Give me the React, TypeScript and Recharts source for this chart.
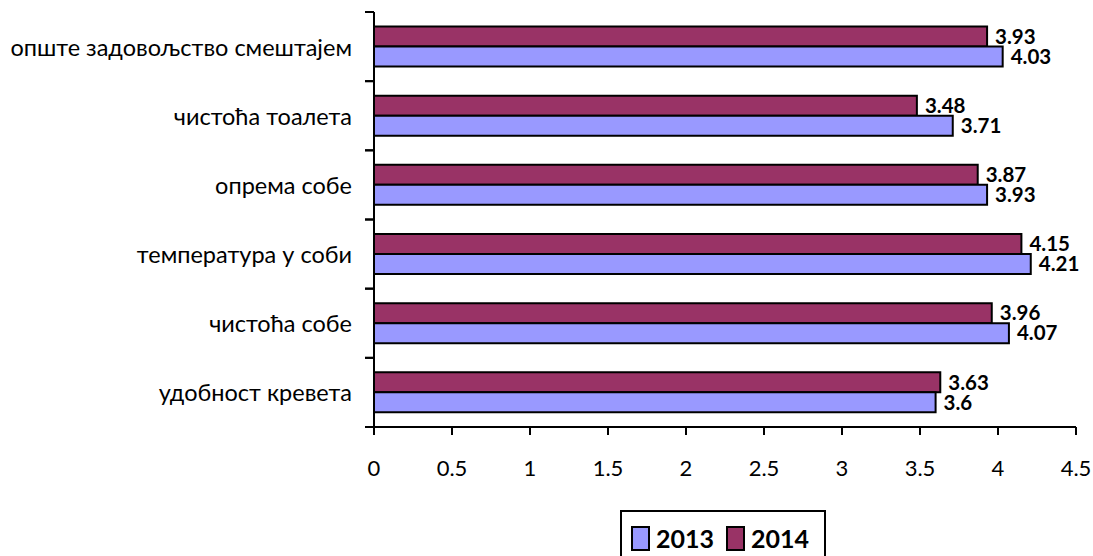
import React from 'react';
import { BarChart, Bar, XAxis, YAxis, LabelList } from 'recharts';

const categories = [
  'опште задовољство смештајем',
  'чистоћа тоалета',
  'опрема собе',
  'температура у соби',
  'чистоћа собе',
  'удобност кревета',
];
const values2013 = [4.03, 3.71, 3.93, 4.21, 4.07, 3.6];
const values2014 = [3.93, 3.48, 3.87, 4.15, 3.96, 3.63];
const xTicks = [0, 0.5, 1, 1.5, 2, 2.5, 3, 3.5, 4, 4.5];
const seriesNames = ['2013', '2014'];
const seriesColors = ['#9999FF', '#993366'];

const data = categories.map((name, i) => ({
  name,
  y2013: values2013[i],
  y2014: values2014[i],
}));

const FONT = 'Lato, "Open Sans", sans-serif';
const Y_TICK_SIZE = 9;
const Y_TICK_MARGIN = 13;

// category labels plus Excel-style tick marks on the band edges
const CategoryTick = (props: any) => {
  const { x, y, payload } = props;
  const half = payload?.offset ?? 34.6;
  const axisX = x + Y_TICK_MARGIN + Y_TICK_SIZE;
  return (
    <g>
      <line x1={axisX - Y_TICK_SIZE} x2={axisX} y1={y - half} y2={y - half} stroke="#000" strokeWidth={2} />
      <line x1={axisX - Y_TICK_SIZE} x2={axisX} y1={y + half} y2={y + half} stroke="#000" strokeWidth={2} />
      <text x={x} y={y} textAnchor="end" dominantBaseline="central" fontSize={23.5} fill="#000" fontFamily={FONT}>
        {payload.value}
      </text>
    </g>
  );
};

const LegendBox = () => (
  <div
    style={{
      position: 'absolute',
      left: 620,
      top: 510,
      width: 206,
      height: 60,
      border: '2px solid #000',
      boxSizing: 'border-box',
      background: '#fff',
      display: 'flex',
      alignItems: 'flex-start',
      paddingTop: 14,
      paddingLeft: 9,
      fontFamily: FONT,
      fontWeight: 700,
      fontSize: 25,
      lineHeight: '25px',
    }}
  >
    {seriesNames.map((name, i) => (
      <div key={name} style={{ display: 'flex', alignItems: 'center', marginRight: 12 }}>
        <span
          style={{
            display: 'inline-block',
            width: 15,
            height: 21,
            background: seriesColors[i],
            border: '2px solid #000',
            marginRight: 6,
          }}
        />
        <span>{name}</span>
      </div>
    ))}
  </div>
);

export default function App() {
  return (
    <div style={{ position: 'absolute', left: 0, top: 0, width: 1093, height: 556, overflow: 'hidden', background: '#fff' }}>
      <BarChart
        width={1093}
        height={556}
        data={data}
        layout="vertical"
        margin={{ top: 12, right: 17, bottom: 0, left: 0 }}
        barCategoryGap="21%"
        barGap={0}
      >
        <XAxis
          type="number"
          domain={[0, 4.5]}
          ticks={xTicks}
          interval={0}
          height={129}
          tickSize={8}
          tickMargin={25}
          axisLine={{ stroke: '#000', strokeWidth: 2 }}
          tickLine={{ stroke: '#000', strokeWidth: 2 }}
          tick={{ fill: '#000', fontSize: 22, fontFamily: FONT }}
        />
        <YAxis
          type="category"
          dataKey="name"
          width={374}
          tickSize={Y_TICK_SIZE}
          tickMargin={Y_TICK_MARGIN}
          tickLine={false}
          axisLine={{ stroke: '#000', strokeWidth: 2 }}
          tick={<CategoryTick />}
          interval={0}
        />
        <Bar dataKey="y2014" name={seriesNames[1]} fill={seriesColors[1]} stroke="#000" strokeWidth={2} isAnimationActive={false}>
          <LabelList dataKey="y2014" position="right" offset={8} style={{ fill: '#000', fontSize: 20.5, fontWeight: 700, fontFamily: FONT }} />
        </Bar>
        <Bar dataKey="y2013" name={seriesNames[0]} fill={seriesColors[0]} stroke="#000" strokeWidth={2} isAnimationActive={false}>
          <LabelList dataKey="y2013" position="right" offset={8} style={{ fill: '#000', fontSize: 20.5, fontWeight: 700, fontFamily: FONT }} />
        </Bar>
      </BarChart>
      <LegendBox />
    </div>
  );
}
